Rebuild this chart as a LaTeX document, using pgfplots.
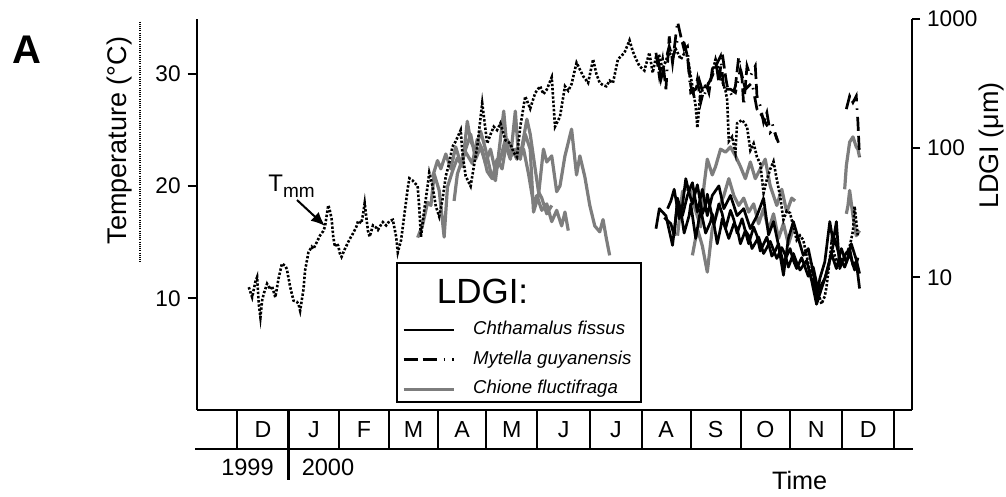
\documentclass[border=0pt]{standalone}
\usepackage{fontspec}
\setmainfont{Liberation Sans}
\usepackage{pgfplots}
\pgfplotsset{compat=1.18}
\usetikzlibrary{arrows.meta}
\definecolor{shellgray}{RGB}{125,125,125}

\pgfplotsset{
  templine/.style={black, line width=1.3pt, dash pattern=on 1.2pt off 0.9pt},
  chthamalus/.style={black, line width=1.35pt, line join=round},
  mytella/.style={black, line width=1.35pt, dash pattern=on 7pt off 2.5pt on 7pt off 3.5pt on 0.75pt off 3.5pt},
  chione/.style={shellgray, line width=1.6pt, line join=round},
  common/.style={
    at={(98.35pt,-204.75pt)}, anchor=south west,
    scale only axis, width=357.5pt, height=195.4pt,
    xmin=-24.5, xmax=407.5,
    axis line style={-, line width=1pt},
    tick align=outside,
    tick style={line width=1pt, black},
    tick label style={font=\fontsize{11.3}{13}\selectfont},
    /pgf/number format/assume math mode=true,
  },
}

\begin{document}
\begin{tikzpicture}
\begin{scope}[x=0.5pt,y=-0.5pt]
  \path[use as bounding box] (0,0) rectangle (1006,497);
\end{scope}

% Growth increments (LDGI), right logarithmic axis
\begin{axis}[common,
  ymode=log, ymin=0.952, ymax=1000,
  axis x line=none, axis y line*=right,
  ytick={10,100,1000}, yticklabels={10,100,1000},
  yminorticks=false, major tick length=4.2pt,
  legend cell align=left,
  legend style={at={(0.2871,0.2280)}, anchor=north west, draw=none, fill=none,
    inner sep=0pt, outer sep=0pt, row sep=5.2pt, column sep=9pt,
    font=\fontsize{9.3}{11}\selectfont\itshape,
    nodes={inner sep=0pt, text height=7.1pt, text depth=2.5pt}},
  legend image code/.code={\draw[#1] (0pt,0pt) -- (25pt,0pt);},
]
\addlegendimage{chthamalus}\addlegendentry{Chthamalus fissus}
\addlegendimage{mytella}\addlegendentry{Mytella guyanensis}
\addlegendimage{chione}\addlegendentry{Chione fluctifraga}

% Chione fluctifraga
\addplot[chione, forget plot] table {
109 20.3
112 25.5
115 38
117 36
119 63
122 47
125 20.5
127 50
130 66
133 84
136 72
139 161
141 113
144 95
147 135
150 98
153 66
156 56
159 117
161 193
163 98
165 82
168 193
170 85
173 98
176 63
179 37
181 43
184 33
187 37
190 27
193 33
196 25
198 32
200 23
};
\addplot[chione, forget plot] table {
118 60
121 80
123 69
126 90
129 69
132 102
135 76
138 98
141 128
144 82
147 102
150 76
153 98
156 66
159 82
162 117
165 85
168 98
171 82
174 128
177 98
179 32
182 43
185 98
187 78
190 87
193 46
195 51
198 87
202 140
205 62
207 87
210 60
213 36
216 25
219 22.5
221 28
223 20
225 14.8
};
\addplot[chione, forget plot] table {
131 39
133 63
136 82
138 93
142 76
145 117
148 98
151 66
154 58
157 82
160 69
163 117
166 98
169 82
172 102
175 167
177 128
180 69
182 46
184 41
187 31
190 36
};
\addplot[chione, forget plot] table {
266 21
269 46
273 50
276 36
280 24.6
282 51
284 82
287 62
289 72
292 98
295 93
298 102
301 87
304 72
307 58
310 78
313 58
316 69
319 82
322 51
326 36
329 48
332 32
335 41
337 39
};
\addplot[chione, forget plot] table {
275 14.8
278 23.8
281 17.5
284 11
287 23.8
290 32
294 43
297 58
300 43
303 36
306 41
309 32
312 37
315 26
318 34
321 23
324 31
327 20
330 26
333 18
336 24
};
\addplot[chione, forget plot] table {
367 48
368 73
370 111
372 122
374 102
375 98
376 85
};
\addplot[chione, forget plot] table {
368 31
369 36
370 47
372 30
374 21
376 23
};

% Chthamalus fissus
\addplot[chthamalus, forget plot] table {
253 23.8
255 34
259 30
263 17.7
266 38
269 30
272 43
275 54
278 32
281 48
284 30
287 43
291 51
294 34
298 43
302 30
306 34
310 23.8
314 30
318 41
321 21.3
324 27
327 17.7
330 10.4
333 20
336 27
339 20
342 14.8
345 16.7
348 11
350 6.9
352 9.8
355 13.2
358 27
360 19
362 27
364 11.7
367 14.8
370 16.7
372 12.4
374 13.2
376 8.2
};
\addplot[chthamalus, forget plot] table {
258 29
262 26
264 21
266 41
268 33
270 22
273 30
274 37
277 20
280 34
281 29
283 22
286 27
287 31
290 18.2
292 24
293 28.4
297 20
300 26
302 24
304 18.2
307 23
309 21
311 16.7
315 20.5
318 15.3
320 17
322 19
326 14
329 17
331 15
333 12
336 15.3
338 13
340 11.4
344 13.5
347 9.5
350 6.2
353 8.2
356 10.7
359 15.3
362 11.7
365 16.7
368 13
371 18.2
374 13.7
376 10.7
};
\addplot[chthamalus, forget plot] table {
260 34
262 39
264 48
267 28.4
269 36
271 58
273 45
275 37
278 52
281 31
283 36
284 44
288 25.5
291 37
293 31
295 23.8
298 33
300 28
302 22
305 28.4
309 18.2
312 24.5
314 21
316 16
320 20.5
323 14.6
325 16
327 18.2
330 12.8
334 16.7
336 13.5
338 11.7
341 14.2
345 10.2
348 12
351 7.9
355 9.8
358 13.7
361 20
364 14.2
367 12
370 15.3
373 11.4
375 14.2
};

% Mytella guyanensis
\addplot[mytella, forget plot] table {
253 545
255 360
257 484
259 285
261 730
263 456
266 953
268 730
270 578
272 612
273 405
274 302
276 252
278 340
280 225
283 320
285 268
287 405
289 484
291 320
293 545
295 360
296 302
299 252
301 302
303 513
305 340
306 212
308 430
310 360
313 430
314 252
316 212
318 158
320 188
322 132
324 140
327 110
};
\addplot[mytella, forget plot] table {
254 513
256 340
259 484
261 612
263 484
266 689
270 650
272 513
274 268
277 285
279 340
282 252
284 302
287 360
290 456
292 513
294 285
298 285
301 268
304 405
307 285
311 320
314 200
317 178
320 150
323 158
326 117
};
\addplot[mytella, forget plot] table {
368 200
370 252
372 225
374 252
375 158
376 85
};
\end{axis}

% Water temperature, left axis
\begin{axis}[common,
  ymin=0.1, ymax=34.92,
  axis x line*=bottom, axis y line*=left,
  xtick=\empty,
  ytick={10,20,30}, yticklabels={10,20,30},
  major tick length=4.5pt,
]
\addplot[templine] table {
7 11.0
9 10.1
11 11.5
12 11.9
13 9.5
14 8.3
15 9.8
16 10.4
18 11.3
20 10.8
21 11.1
23 10.1
25 11.8
27 13.1
29 12.9
30 12.6
32 11.0
34 9.8
36 9.7
37 9.5
38 8.9
40 10.8
41 12.5
43 14.1
45 14.6
46 14.4
48 15.0
50 15.6
52 16.0
53 16.4
55 18.3
56 17.8
57 17.1
58 15.5
59 14.6
60 14.9
61 14.7
62 14.0
63 13.7
65 14.4
68 15.3
70 15.8
72 16.4
73 16.9
75 16.7
76 17.5
77 18.5
78 17.2
79 16.0
80 15.5
82 16.5
84 16.3
85 16.1
87 16.6
88 16.8
90 16.5
92 16.9
94 17.0
96 15.5
97 14.1
99 15.2
101 17.5
103 19.8
104 20.7
106 20.5
109 20.0
110 18.0
111 15.5
113 17.9
115 20.0
116 21.2
118 20.0
120 18.2
122 17.3
124 18.8
126 20.9
128 22.0
130 23.5
132 24.0
135 25.0
136 23.0
138 20.9
141 20.0
143 21.8
145 23.5
148 27.4
150 25.0
151 23.8
153 24.6
155 25.3
157 25.0
159 25.6
162 24.1
165 23.8
167 23.0
169 22.6
171 25.3
174 28.0
177 26.9
180 28.3
183 28.9
185 28.2
187 28.6
190 29.7
192 25.3
195 26.2
198 28.9
200 28.5
202 29.1
205 31.0
207 30.4
209 29.8
212 29.2
215 31.3
217 30.0
219 29.2
221 29.0
223 28.9
225 29.4
227 29.2
230 31.3
234 31.9
237 33.0
239 32.0
241 31.3
243 30.7
246 30.3
249 31.9
251 30.1
253 31.5
255 31.6
257 30.4
259 31.2
261 31.9
263 31.5
265 32.2
268 31.3
270 31.8
272 31.6
274 29.8
277 27.1
278 25.2
280 28.6
282 28.9
284 29.0
286 29.5
289 31.3
292 29.8
295 28.5
296 27.7
297 24.0
299 24.4
301 23.0
302 25.6
305 25.9
308 25.3
310 23.2
312 23.8
314 22.6
316 22.0
318 19.4
320 20.6
322 21.5
324 22.2
326 20.6
328 19.1
330 17.0
332 17.8
334 17.6
336 16.4
338 15.2
340 15.6
342 15.2
344 13.8
346 12.5
348 11.5
350 10.7
352 10.0
353 9.5
355 10.2
356 11.0
358 13.5
359 14.9
361 13.8
362 13.4
364 13.2
366 13.7
368 14.0
370 14.6
372 16.0
373 18.2
375 15.5
};
\end{axis}

% Labels, legend frame and month strip (coordinates in pixels, y downwards)
\begin{scope}[x=0.5pt,y=-0.5pt]
  \node[anchor=base west, inner sep=0pt, font=\bfseries\fontsize{20}{24}\selectfont] at (12,64) {A};
  \node[rotate=90, anchor=base, inner sep=0pt, font=\fontsize{13.5}{16}\selectfont] at (126.7,140.5) {Temperature (°C)};
  \draw[line width=0.6pt, dash pattern=on 0.5pt off 0.6pt] (140,21.7) -- (140,263.3);
  \node[rotate=90, anchor=base, inner sep=0pt, font=\fontsize{13.5}{16}\selectfont] at (998,145.5) {LDGI (μm)};

  \node[anchor=base west, inner sep=0pt, font=\fontsize{12}{14}\selectfont] at (268,192)
    {T\raisebox{-0.45ex}{\fontsize{9.5}{11}\selectfont mm}};
  \draw[line width=1pt, -{Latex[length=7pt,width=6pt]}] (297,200) -- (325,226);

  \draw[line width=1pt] (396.5,262.7) rectangle (640.5,401.7);
  \node[anchor=base, inner sep=0pt, font=\fontsize{17.5}{20}\selectfont] at (482.5,303) {LDGI:};

  \draw[line width=1pt] (195,449.3) -- (913,449.3);
  \foreach \x in {237.3,339.3,388.7,438.3,486,537.3,590,641.7,690.7,740.7,790,842.3,894.3}
    \draw[line width=1pt] (\x,409.5) -- (\x,449.3);
  \draw[line width=1.5pt] (288.7,409.5) -- (288.7,480);
  \foreach \x/\m in {263/D,314/J,364/F,413.5/M,462.2/A,511.7/M,563.7/J,615.9/J,666.2/A,715.7/S,765.4/O,816.2/N,868.3/D}
    \node[anchor=base, inner sep=0pt, font=\fontsize{11.6}{14}\selectfont] at (\x,437.3) {\m};
  \node[anchor=base, inner sep=0pt, font=\fontsize{11.8}{14}\selectfont] at (247.5,475) {1999};
  \node[anchor=base, inner sep=0pt, font=\fontsize{11.8}{14}\selectfont] at (328,475) {2000};
  \node[anchor=base west, inner sep=0pt, font=\fontsize{12.6}{15}\selectfont] at (771.7,489) {Time};
\end{scope}
\end{tikzpicture}
\end{document}
